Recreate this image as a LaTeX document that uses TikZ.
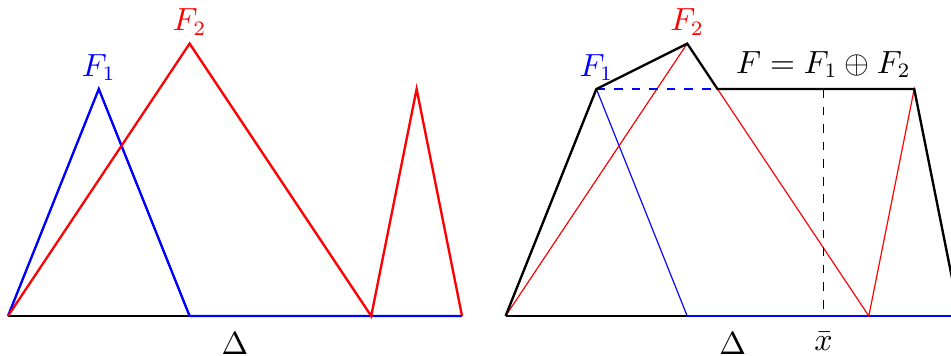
\documentclass[tikz,border=0pt]{standalone}
\usepackage{amsmath,amssymb}
\usepackage{tikz}
\usetikzlibrary{calc}

\begin{document}
\begin{tikzpicture}[x=1.09cm,y=1.09cm,font=\fontsize{10.5}{12}\selectfont]
\useasboundingbox (-0.088,-0.44) rectangle (10.385,3.48);
% left: the two functions
\draw (0,0) -- (2,0);
\draw[thick, blue] (0,0) -- (1,2.5) node[above=-1pt]{$F_1$} -- (2,0) -- (5,0);
\draw[thick, red] (0,0) -- (2,3) node[above=-1pt]{$F_2$} -- (4,0) -- (4.5,2.5) -- (5,0);
\node[below=2pt] at (2.5,0) {$\Delta$};
% right: their sum
\begin{scope}[xshift=5.48*1.09cm]
\draw (0,0) -- (2,0);
\draw[semithick, blue] (2,0) -- (5.5,0);
\draw[blue] (1,2.5) -- (2,0);
\draw[red] (0,0) -- (2,3) -- (4,0) -- (4.5,2.5) -- (5,0);
\draw[blue, dashed] (1,2.5) -- (7/3,2.5);
\draw[dashed] (3.5,2.5) -- (3.5,0) node[below=2pt]{$\bar{x}$};
\draw[thick] (0,0) -- (1,2.5) node[above=-1pt, blue]{$F_1$} -- (2,3) node[above=-1pt, red]{$F_2$} -- (7/3,2.5) -- (4.5,2.5) -- (5,0);
\node at (3.5,2.77) {$F=F_1\oplus F_2$};
\node[below=2pt] at (2.5,0) {$\Delta$};
\end{scope}
\end{tikzpicture}
\end{document}
